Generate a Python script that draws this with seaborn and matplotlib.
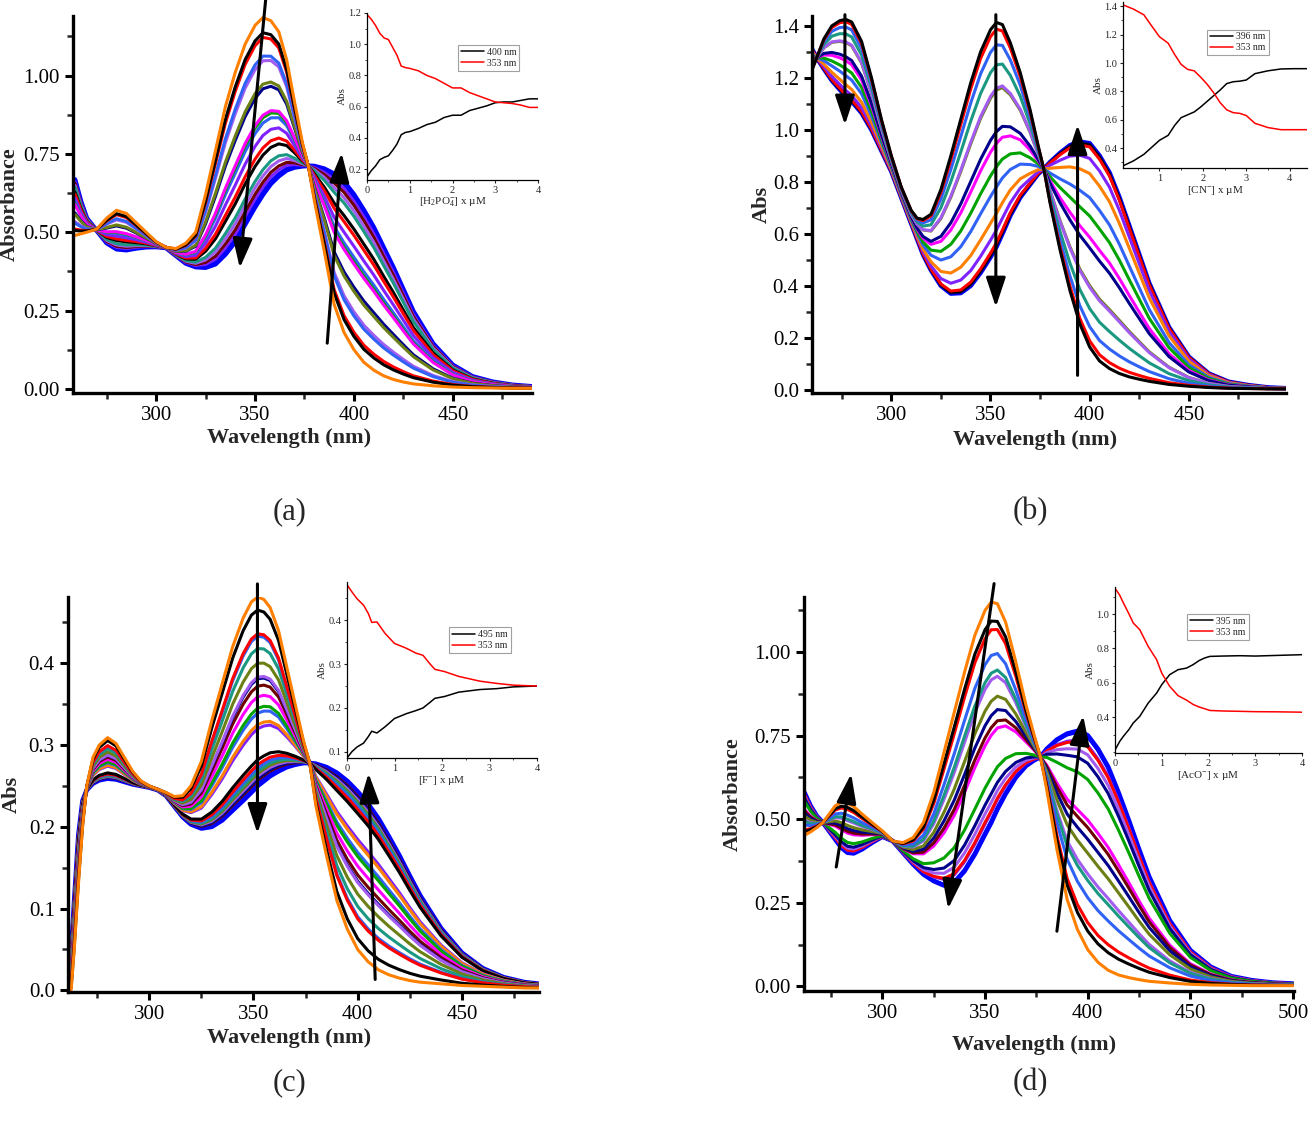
import numpy as np
import pandas as pd
import matplotlib
matplotlib.use("Agg")
import matplotlib.pyplot as plt
import seaborn as sns
from matplotlib.ticker import MultipleLocator, FormatStrFormatter, AutoMinorLocator

sns.set_theme(style="white")
plt.rcParams["font.family"] = ["Liberation Serif", "DejaVu Serif"]
plt.rcParams["mathtext.fontset"] = "custom"
plt.rcParams["mathtext.rm"] = "Liberation Serif"
plt.rcParams["mathtext.it"] = "Liberation Serif:italic"
plt.rcParams["mathtext.bf"] = "Liberation Serif:bold"

# ---------------- colours (Origin-like palette) ----------------
PAL = {"orange": "#FF7F00", "black": "#000000", "red": "#FF0000", "royal": "#2F62F5",
       "lavender": "#A35CF0", "olive": "#6B7F14", "navy": "#00008B", "magenta": "#FF00FF",
       "green": "#00A300", "blue": "#0000FF", "violet": "#7F22FF", "teal": "#1A9882",
       "maroon": "#6E0000"}

# ---------------- panel (a): H2PO4- ----------------
wl_a = [259, 262, 265, 270, 275, 280, 285, 290, 295, 300, 305, 310, 315, 320, 325,
        330, 335, 340, 345, 350, 354, 358, 362, 366, 370, 374, 377, 380, 385, 390,
        395, 400, 405, 410, 415, 420, 425, 430, 440, 450, 460, 470, 480, 490]
start_a = [0.49, 0.495, 0.50, 0.51, 0.545, 0.57, 0.56, 0.53, 0.50, 0.47, 0.452, 0.448, 0.465, 0.50, 0.62,
           0.76, 0.90, 1.01, 1.10, 1.16, 1.185, 1.175, 1.14, 1.05, 0.915, 0.785, 0.71, 0.60, 0.44, 0.27,
           0.18, 0.125, 0.085, 0.06, 0.042, 0.03, 0.022, 0.016, 0.01, 0.006, 0.004, 0.003, 0.002, 0.002]
end_a = [0.67, 0.60, 0.545, 0.505, 0.465, 0.445, 0.442, 0.448, 0.452, 0.453, 0.450, 0.425, 0.40, 0.388, 0.385,
         0.395, 0.425, 0.465, 0.52, 0.575, 0.615, 0.65, 0.675, 0.695, 0.705, 0.71, 0.712, 0.712, 0.705, 0.69,
         0.665, 0.625, 0.575, 0.52, 0.455, 0.39, 0.32, 0.25, 0.146, 0.077, 0.04, 0.023, 0.013, 0.008]
lev_a = [1.18, 1.13, 1.115, 1.055, 1.04, 0.965, 0.95, 0.865, 0.857, 0.84, 0.80, 0.76, 0.737,
         0.69, 0.67, 0.65, 0.635, 0.62, 0.61]
col_a = ["orange", "black", "red", "royal", "lavender", "olive", "navy", "magenta", "green", "royal",
         "violet", "red", "black", "teal", "lavender", "maroon", "violet", "blue", "blue"]
ins_x_a = [0, 0.1, 0.2, 0.3, 0.4, 0.5, 0.6, 0.7, 0.8, 0.9, 1.0, 1.2, 1.4, 1.6, 1.8, 2.0, 2.2, 2.4, 2.6,
           2.8, 3.0, 3.2, 3.4, 3.6, 3.8, 4.0]
ins_red_a = [1.19, 1.16, 1.12, 1.07, 1.04, 1.03, 0.98, 0.93, 0.86, 0.85, 0.845, 0.83, 0.80, 0.78, 0.75,
             0.72, 0.72, 0.69, 0.67, 0.65, 0.63, 0.625, 0.62, 0.61, 0.595, 0.595]
ins_blk_a = [0.15, 0.19, 0.22, 0.26, 0.275, 0.285, 0.32, 0.36, 0.42, 0.435, 0.44, 0.46, 0.485, 0.50, 0.53,
             0.545, 0.545, 0.575, 0.59, 0.605, 0.625, 0.63, 0.63, 0.64, 0.65, 0.65]

# ---------------- panel (b): CN- ----------------
wl_b = [260, 263, 266, 270, 274, 277, 280, 285, 290, 295, 300, 305, 310, 313, 316, 320, 325, 330, 335, 340,
        345, 350, 353, 356, 360, 365, 370, 374, 377, 380, 385, 390, 395, 400, 405, 410, 415, 420, 425, 430,
        440, 450, 460, 470, 480, 490, 499]
start_b = [1.23, 1.29, 1.35, 1.40, 1.42, 1.425, 1.415, 1.34, 1.20, 1.04, 0.90, 0.78, 0.69, 0.66, 0.655,
           0.675, 0.77, 0.90, 1.04, 1.18, 1.30, 1.385, 1.413, 1.405, 1.335, 1.22, 1.076, 0.94, 0.845, 0.72,
           0.54, 0.383, 0.254, 0.164, 0.11, 0.081, 0.062, 0.049, 0.04, 0.032, 0.02, 0.013, 0.008, 0.005,
           0.004, 0.003, 0.003]
end_b = [1.31, 1.27, 1.235, 1.19, 1.155, 1.13, 1.11, 1.065, 1.00, 0.92, 0.84, 0.74, 0.64, 0.58, 0.52,
         0.46, 0.40, 0.37, 0.372, 0.40, 0.45, 0.51, 0.55, 0.60, 0.67, 0.74, 0.79, 0.83, 0.85, 0.875,
         0.91, 0.94, 0.954, 0.948, 0.90, 0.835, 0.74, 0.63, 0.52, 0.41, 0.24, 0.126, 0.062, 0.03,
         0.017, 0.008, 0.005]
lev_b = [1.413, 1.387, 1.327, 1.25, 1.16, 1.153, 0.993, 0.948, 0.858, 0.78, 0.678, 0.614, 0.565,
         0.558, 0.553, 0.55]
col_b = ["black", "red", "royal", "teal", "lavender", "olive", "navy", "magenta", "green", "royal",
         "orange", "violet", "red", "black", "navy", "blue"]
ins_x_b = [0.16, 0.4, 0.64, 0.8, 1.0, 1.2, 1.35, 1.5, 1.65, 1.8, 1.95, 2.1, 2.25, 2.4, 2.55, 2.7, 2.85,
           3.0, 3.2, 3.5, 3.8, 4.1, 4.4]
ins_red_b = [1.41, 1.38, 1.34, 1.27, 1.185, 1.14, 1.06, 0.99, 0.955, 0.945, 0.90, 0.85, 0.79, 0.72, 0.67,
             0.65, 0.645, 0.63, 0.575, 0.545, 0.53, 0.53, 0.53]
ins_blk_b = [0.275, 0.31, 0.356, 0.40, 0.455, 0.49, 0.56, 0.615, 0.635, 0.655, 0.69, 0.73, 0.77, 0.81,
             0.855, 0.868, 0.872, 0.88, 0.925, 0.945, 0.958, 0.96, 0.96]

# ---------------- panel (c): F- ----------------
wl_c = [261, 262.5, 264, 266, 268, 270, 273, 276, 280, 284, 288, 292, 296, 300, 304, 308, 312, 316, 320,
        325, 330, 335, 340, 345, 349, 352, 355, 358, 362, 366, 370, 374, 377, 380, 385, 390, 395, 400,
        405, 410, 415, 420, 425, 430, 440, 450, 460, 470, 480, 487]
start_c = [0.0, 0.0, 0.05, 0.13, 0.20, 0.25, 0.285, 0.30, 0.309, 0.302, 0.285, 0.268, 0.256, 0.25, 0.246,
           0.242, 0.237, 0.238, 0.25, 0.28, 0.33, 0.375, 0.42, 0.455, 0.475, 0.481, 0.478, 0.468, 0.44,
           0.395, 0.35, 0.305, 0.278, 0.225, 0.165, 0.11, 0.075, 0.05, 0.035, 0.025, 0.019, 0.015, 0.012,
           0.01, 0.008, 0.006, 0.005, 0.004, 0.003, 0.003]
end_c = [0.0, 0.045, 0.11, 0.19, 0.232, 0.245, 0.253, 0.257, 0.259, 0.258, 0.255, 0.252, 0.25, 0.248,
         0.245, 0.238, 0.225, 0.212, 0.203, 0.198, 0.2, 0.208, 0.22, 0.232, 0.242, 0.25, 0.256, 0.262,
         0.268, 0.273, 0.276, 0.278, 0.278, 0.277, 0.273, 0.266, 0.256, 0.243, 0.228, 0.21, 0.188, 0.165,
         0.14, 0.116, 0.076, 0.046, 0.027, 0.016, 0.01, 0.008]
lev_c = [0.481, 0.465, 0.436, 0.433, 0.418, 0.40, 0.383, 0.381, 0.372, 0.359, 0.345, 0.339, 0.325, 0.32,
         0.282, 0.276, 0.272, 0.268, 0.265, 0.262, 0.259, 0.257, 0.254, 0.25]
col_c = ["orange", "black", "red", "royal", "teal", "olive", "lavender", "navy", "maroon", "magenta",
         "green", "royal", "orange", "violet", "black", "red", "royal", "teal", "olive", "lavender",
         "navy", "maroon", "blue", "blue"]
ins_x_c = [0, 0.1, 0.21, 0.35, 0.45, 0.52, 0.63, 0.8, 1.0, 1.25, 1.45, 1.6, 1.75, 1.85, 2.05, 2.35, 2.8,
           3.15, 3.5, 4.0]
ins_red_c = [0.481, 0.465, 0.449, 0.434, 0.415, 0.395, 0.396, 0.37, 0.347, 0.336, 0.325, 0.32, 0.30,
             0.288, 0.283, 0.272, 0.261, 0.256, 0.252, 0.25]
ins_blk_c = [0.086, 0.1, 0.111, 0.12, 0.135, 0.147, 0.143, 0.157, 0.176, 0.187, 0.194, 0.2, 0.213,
             0.222, 0.226, 0.236, 0.242, 0.244, 0.248, 0.25]

# ---------------- panel (d): AcO- ----------------
wl_d = [262, 265, 268, 271, 274, 277, 280, 283, 286, 290, 295, 300, 305, 310, 315, 320, 325, 330, 335,
        340, 345, 350, 353, 356, 360, 365, 370, 374, 377, 380, 385, 390, 395, 400, 405, 410, 415, 420,
        425, 430, 440, 450, 460, 470, 480, 490, 500]
start_d = [0.452, 0.462, 0.475, 0.49, 0.515, 0.54, 0.551, 0.548, 0.538, 0.516, 0.49, 0.465, 0.435, 0.43,
           0.445, 0.49, 0.58, 0.70, 0.82, 0.94, 1.05, 1.125, 1.15, 1.145, 1.09, 0.97, 0.84, 0.75, 0.686,
           0.59, 0.41, 0.26, 0.17, 0.11, 0.072, 0.048, 0.034, 0.026, 0.02, 0.015, 0.01, 0.006, 0.004,
           0.003, 0.002, 0.002, 0.002]
end_d = [0.58, 0.54, 0.51, 0.49, 0.465, 0.44, 0.415, 0.40, 0.398, 0.41, 0.43, 0.448, 0.435, 0.40, 0.365,
         0.335, 0.315, 0.302, 0.31, 0.345, 0.395, 0.455, 0.49, 0.53, 0.576, 0.625, 0.66, 0.677, 0.686,
         0.71, 0.738, 0.756, 0.764, 0.751, 0.71, 0.656, 0.58, 0.497, 0.41, 0.327, 0.197, 0.108, 0.058,
         0.03, 0.018, 0.011, 0.008]
lev_d = [1.152, 1.093, 1.067, 0.99, 0.937, 0.917, 0.853, 0.81, 0.774, 0.751, 0.626, 0.576, 0.55, 0.525,
         0.52, 0.495, 0.49]
col_d = ["orange", "black", "red", "royal", "teal", "lavender", "olive", "navy", "maroon", "magenta",
         "green", "navy", "lavender", "red", "violet", "blue", "blue"]
ins_x_d = [0, 0.1, 0.18, 0.3, 0.39, 0.53, 0.71, 0.89, 1.0, 1.17, 1.35, 1.53, 1.67, 1.8, 1.92, 2.03, 2.3,
           2.67, 3.0, 3.5, 4.0]
ins_red_d = [1.15, 1.11, 1.064, 1.0, 0.948, 0.909, 0.812, 0.735, 0.657, 0.58, 0.526, 0.50, 0.475, 0.46,
             0.45, 0.44, 0.437, 0.435, 0.433, 0.432, 0.43]
ins_blk_d = [0.21, 0.26, 0.29, 0.33, 0.367, 0.406, 0.483, 0.541, 0.59, 0.648, 0.677, 0.686, 0.706, 0.73,
             0.745, 0.754, 0.756, 0.758, 0.756, 0.76, 0.764]

W, H = 1312, 1137
fig = plt.figure(figsize=(W / 100, H / 100), dpi=100)


def px_axes(l, r, t, b, **kw):
    return fig.add_axes([l / W, 1 - b / H, (r - l) / W, (b - t) / H], **kw)


def spectra(ax, wl, start, end, levels, cols, ref):
    wl = np.asarray(wl, float)
    s, e = np.asarray(start), np.asarray(end)
    s0, e0 = np.interp(ref, wl, s), np.interp(ref, wl, e)
    frames = []
    for i, L in enumerate(levels):
        f = float(np.clip((s0 - L) / (s0 - e0), 0, 1))
        frames.append(pd.DataFrame({"wl": wl, "A": s + f * (e - s), "curve": i}))
    df = pd.concat(frames)
    order = list(range(len(levels)))[::-1]
    pal = {i: PAL[c] for i, c in enumerate(cols)}
    sns.lineplot(data=df, x="wl", y="A", hue="curve", hue_order=order, palette=pal, legend=False,
                 estimator=None, sort=False, errorbar=None, linewidth=2.2, ax=ax)
    ax.lines[0].set_linewidth(3.4)


def style_main(ax, xlim, ylim, ymaj, fmt, xlabel_y, ylabel, ylabel_x):
    ax.set_xlim(*xlim)
    ax.set_ylim(*ylim)
    for sp in ["top", "right"]:
        ax.spines[sp].set_visible(False)
    for sp in ["left", "bottom"]:
        ax.spines[sp].set_linewidth(2.4)
        ax.spines[sp].set_color("black")
    ax.xaxis.set_major_locator(MultipleLocator(50))
    ax.xaxis.set_minor_locator(MultipleLocator(25))
    ax.yaxis.set_major_locator(MultipleLocator(ymaj))
    ax.yaxis.set_minor_locator(MultipleLocator(ymaj / 2))
    ax.yaxis.set_major_formatter(FormatStrFormatter(fmt))
    ax.tick_params(which="major", direction="out", length=6, width=2.2, labelsize=15,
                   left=True, bottom=True, colors="black")
    ax.tick_params(which="minor", direction="out", length=4, width=1.8, left=True, bottom=True)
    ax.set_xlabel("Wavelength (nm)", fontsize=16, fontweight="bold")
    ax.set_ylabel(ylabel, fontsize=16, fontweight="bold")
    ax.xaxis.set_label_coords(0.47, xlabel_y)
    ax.yaxis.set_label_coords(ylabel_x, 0.5)
    ax.set_facecolor("none")
    ax.grid(False)


def arrow(ax, tail, tip):
    ax.annotate("", xy=tip, xytext=tail, annotation_clip=False,
                arrowprops=dict(arrowstyle="-|>,head_length=0.9,head_width=0.3", lw=2.2, color="black",
                                shrinkA=0, shrinkB=0, mutation_scale=20))


def inset(box, x, blk, red, lab_b, xlabel, xlim, ylim, yticks, xticks, leg_anchor):
    ax = px_axes(*box)
    df = pd.DataFrame({"x": list(x) * 2, "A": list(blk) + list(red),
                       "s": [lab_b] * len(x) + ["353 nm"] * len(x)})
    sns.lineplot(data=df, x="x", y="A", hue="s", palette={lab_b: "black", "353 nm": "red"},
                 estimator=None, sort=False, errorbar=None, linewidth=1.1, ax=ax)
    ax.set_xlim(*xlim)
    ax.set_ylim(*ylim)
    ax.set_yticks(yticks)
    ax.set_xticks(xticks)
    ax.yaxis.set_major_formatter(FormatStrFormatter("%.1f"))
    ax.xaxis.set_major_formatter(FormatStrFormatter("%d"))
    ax.xaxis.set_minor_locator(AutoMinorLocator(2))
    ax.yaxis.set_minor_locator(AutoMinorLocator(2))
    for sp in ["top", "right"]:
        ax.spines[sp].set_visible(False)
    for sp in ["left", "bottom"]:
        ax.spines[sp].set_linewidth(0.9)
        ax.spines[sp].set_color("black")
    ax.tick_params(which="major", direction="out", length=2.5, width=0.8, labelsize=7.5, pad=1.5,
                   left=True, bottom=True)
    ax.tick_params(which="minor", direction="out", length=1.5, width=0.6, left=True, bottom=True)
    ax.set_xlabel(xlabel, fontsize=8, labelpad=1)
    ax.set_ylabel("Abs", fontsize=8, labelpad=1)
    ax.set_facecolor("none")
    ax.grid(False)
    leg = ax.legend(loc="upper left", bbox_to_anchor=leg_anchor, fontsize=7, frameon=True, fancybox=False,
                    edgecolor="#888888", handlelength=2.4, borderpad=0.3, labelspacing=0.2,
                    handletextpad=0.3, borderaxespad=0)
    leg.get_frame().set_linewidth(0.8)
    return ax


# ---- (a)
axA = px_axes(73, 532, 16, 393)
spectra(axA, wl_a, start_a, end_a, lev_a, col_a, 353)
style_main(axA, (258, 490), (-0.013, 1.19), 0.25, "%.2f", -0.093, "Absorbance", -0.115)
arrow(axA, (355.4, 1.243), (342.3, 0.386))
arrow(axA, (386.5, 0.146), (393.8, 0.753))
inset((367, 538, 13, 180), ins_x_a, ins_blk_a, ins_red_a, "400 nm",
      r"[H$_2$PO$_4^{-}$] x µM", (0, 4), (0.13, 1.2), [0.2, 0.4, 0.6, 0.8, 1.0, 1.2], [0, 1, 2, 3, 4],
      (0.53, 0.81))

# ---- (b)
axB = px_axes(812, 1286, 16, 393)
spectra(axB, wl_b, start_b, end_b, lev_b, col_b, 353)
style_main(axB, (260, 499), (-0.013, 1.438), 0.2, "%.1f", -0.098, "Abs", -0.084)
arrow(axB, (276.6, 1.443), (276.6, 1.019))
arrow(axB, (352.7, 1.443), (352.7, 0.318))
arrow(axB, (393.9, 0.055), (393.9, 1.019))
inset((1123, 1307, 2, 168), ins_x_b, ins_blk_b, ins_red_b, "396 nm",
      r"[CN$^{-}$] x µM", (0.16, 4.4), (0.26, 1.43), [0.4, 0.6, 0.8, 1.0, 1.2, 1.4], [1, 2, 3, 4],
      (0.457, 0.834))

# ---- (c)
axC = px_axes(68, 539, 597, 992)
spectra(axC, wl_c, start_c, end_c, lev_c, col_c, 352)
style_main(axC, (261, 487), (-0.002, 0.481), 0.1, "%.1f", -0.091, "Abs", -0.098)
arrow(axC, (351.9, 0.497), (351.9, 0.192))
arrow(axC, (408.4, 0.0134), (405.2, 0.2655))
inset((347, 537, 582, 758), ins_x_c, ins_blk_c, ins_red_c, "495 nm",
      r"[F$^{-}$] x µM", (0, 4), (0.086, 0.487), [0.1, 0.2, 0.3, 0.4], [0, 1, 2, 3, 4],
      (0.538, 0.744))

# ---- (d)
axD = px_axes(804, 1294, 597, 991)
spectra(axD, wl_d, start_d, end_d, lev_d, col_d, 353)
style_main(axD, (261.8, 500.5), (-0.014, 1.165), 0.25, "%.2f", -0.112, "Absorbance", -0.124)
arrow(axD, (277.5, 0.357), (284.8, 0.636))
arrow(axD, (354.4, 1.205), (332.0, 0.232))
arrow(axD, (385.0, 0.165), (397.8, 0.81))
inset((1115, 1302, 587, 753), ins_x_d, ins_blk_d, ins_red_d, "395 nm",
      r"[AcO$^{-}$] x µM", (0, 4), (0.193, 1.157), [0.4, 0.6, 0.8, 1.0], [0, 1, 2, 3, 4],
      (0.386, 0.839))

for lab, x, y in [("(a)", 290, 512), ("(b)", 1030, 512), ("(c)", 290, 1083), ("(d)", 1030, 1083)]:
    fig.text(x / W, 1 - y / H, lab, ha="center", va="center", fontsize=22)

fig.savefig("out.png", dpi=100)
